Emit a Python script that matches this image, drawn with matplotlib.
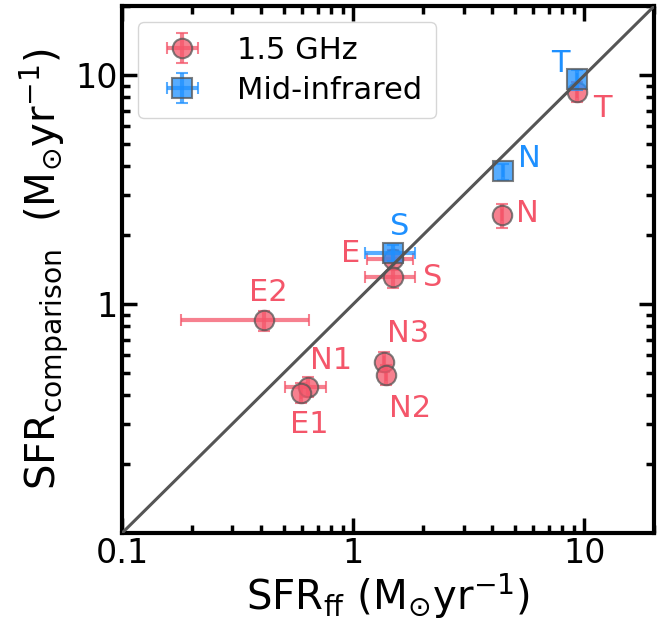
import matplotlib
matplotlib.use("Agg")
import matplotlib.pyplot as plt
import numpy as np

# Radio (1.5 GHz) comparison
radio_names = ["T", "N", "E", "S", "E2", "N1", "E1", "N3", "N2"]
radio_x = [9.3, 4.4, 1.48, 1.48, 0.41, 0.635, 0.595, 1.36, 1.39]
radio_xerr = [0.0, 0.0, 0.33, 0.36, 0.23, 0.13, 0.0, 0.0, 0.0]
radio_y = [8.45, 2.45, 1.57, 1.31, 0.85, 0.436, 0.41, 0.56, 0.49]
radio_yerr_frac = [0.1, 0.12, 0.1, 0.1, 0.1, 0.1, 0.1, 0.1, 0.1]

# Mid-infrared comparison
mir_names = ["T", "N", "S"]
mir_x = [9.3, 4.43, 1.48]
mir_xerr = [0.0, 0.0, 0.36]
mir_y = [9.6, 3.8, 1.67]
mir_yerr_frac = [0.1, 0.08, 0.08]

red = "#F4566A"
blue = "#1E90FF"

fig = plt.figure(figsize=(6.64, 6.27), dpi=100)
ax = fig.add_axes([0.184, 0.150, 0.801, 0.840])

ax.set_xscale("log")
ax.set_yscale("log")
ax.set_xlim(0.1, 20)
ax.set_ylim(0.1, 20)

ax.plot([0.1, 20], [0.1, 20], color="#555555", lw=2.2, zorder=5)

ry = np.array(radio_y)
ryerr = ry * np.array(radio_yerr_frac)
ax.errorbar(radio_x, radio_y, xerr=radio_xerr, yerr=ryerr, fmt="o",
            color=red, ecolor=red, mec="#555555", mew=1.5, ms=14,
            alpha=0.75, elinewidth=3, capsize=4, capthick=3,
            label="1.5 GHz", zorder=3)

my = np.array(mir_y)
myerr = my * np.array(mir_yerr_frac)
ax.errorbar(mir_x, mir_y, xerr=mir_xerr, yerr=myerr, fmt="s",
            color=blue, ecolor=blue, mec="#555555", mew=1.5, ms=14,
            alpha=0.75, elinewidth=3, capsize=4, capthick=3,
            label="Mid-infrared", zorder=4)

# labels (offsets in points)
radio_off = {"T": (18, -12), "N": (18, 1), "E": (-30, 4), "S": (29, 0),
             "E2": (3, 20), "N1": (17, 19), "E1": (6, -23), "N3": (17, 20),
             "N2": (17, -24)}
mir_off = {"T": (-12, 11), "N": (19, 9), "S": (5, 19)}
for n, x, y in zip(radio_names, radio_x, radio_y):
    ax.annotate(n, (x, y), xytext=radio_off[n], textcoords="offset points",
                ha="center", va="center", color=red, fontsize=22)
for n, x, y in zip(mir_names, mir_x, mir_y):
    ax.annotate(n, (x, y), xytext=mir_off[n], textcoords="offset points",
                ha="center", va="center", color=blue, fontsize=22)

ax.set_xticks([0.1, 1, 10])
ax.set_xticklabels(["0.1", "1", "10"])
ax.set_yticks([1, 10])
ax.set_yticklabels(["1", "10"])
ax.tick_params(which="both", direction="in", top=True, right=True, width=2.5)
ax.tick_params(which="major", length=11, labelsize=24, pad=3)
ax.tick_params(which="minor", length=5.5)
for s in ax.spines.values():
    s.set_linewidth(3)

ax.set_xlabel(r"SFR$_{\rm ff}$ (M$_{\odot}$yr$^{-1}$)", fontsize=29, labelpad=1)
ax.set_ylabel(r"SFR$_{\rm comparison}$  (M$_{\odot}$yr$^{-1}$)", fontsize=29,
              labelpad=4)

ax.legend(loc="upper left", fontsize=22, borderpad=0.45, handletextpad=0.8,
          handlelength=2.0, labelspacing=0.35, borderaxespad=0,
          bbox_to_anchor=(0.03, 0.97))

fig.savefig("out.png", dpi=100)
